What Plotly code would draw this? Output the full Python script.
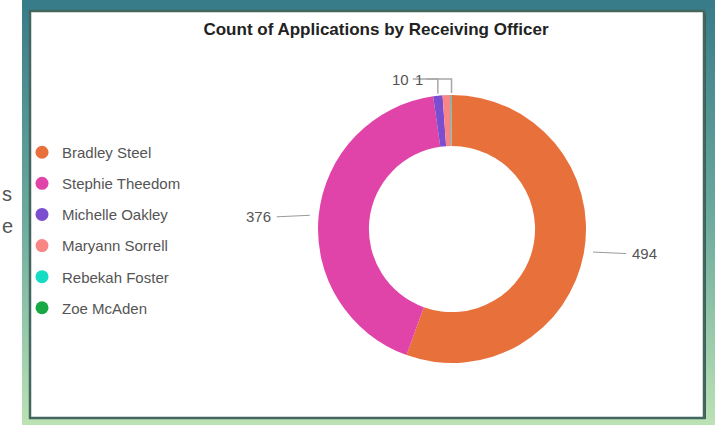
import math
import plotly.graph_objects as go

# ---- data ----
officers = ["Bradley Steel", "Stephie Theedom", "Michelle Oakley",
            "Maryann Sorrell", "Rebekah Foster", "Zoe McAden"]
applications = [494, 376, 10, 9, 1, 0]
colors = ["#E8703A", "#E044A8", "#7A4ECF", "#FA8585", "#14DDC3", "#18A845"]
shown_labels = [True, True, True, False, True, False]
title_text = "Count of Applications by Receiving Officer"

# ---- layout geometry (pixels) ----
W, H = 715, 425
cx, cy, R = 452, 229, 134
HOLE = 0.62


def px(x):
    return x / W


def py(y):
    return 1 - y / H


fig = go.Figure()

fig.add_trace(go.Pie(
    labels=officers, values=applications,
    marker=dict(colors=colors, line=dict(width=0)),
    hole=HOLE, sort=False, direction="clockwise", rotation=0,
    textinfo="none", showlegend=False,
    domain=dict(x=[px(cx - R), px(cx + R)], y=[py(cy + R), py(cy - R)]),
    hovertemplate="%{label}: %{value}<extra></extra>",
))

# legend entries with circle symbols
for i, (name, col) in enumerate(zip(officers, colors)):
    fig.add_trace(go.Scatter(
        x=[None], y=[None], mode="markers", name=name,
        marker=dict(color=col, size=13, symbol="circle"),
        legendgroup=f"g{i}", showlegend=True, hoverinfo="skip",
    ))

# ---- data labels with connectors, positioned from the slice angles ----
total = sum(applications)
shapes = []
annotations = []
cum = 0
for name, val, show in zip(officers, applications, shown_labels):
    mid = (cum + val / 2) / total * 2 * math.pi
    cum += val
    if not show or val <= 0:
        continue
    ex = cx + R * math.sin(mid)
    ey = cy - R * math.cos(mid)
    if abs(math.sin(mid)) > 0.3:
        side = 1 if math.sin(mid) > 0 else -1
        x0, x1 = ex + side * 9, ex + side * 42
        shapes.append(dict(type="line", xref="paper", yref="paper",
                           x0=px(x0), y0=py(ey), x1=px(x1), y1=py(ey + 1.5),
                           line=dict(color="#9a9a9a", width=1)))
        annotations.append(dict(x=px(ex + side * 46), y=py(ey + 1.5),
                                xref="paper", yref="paper", text=str(val),
                                showarrow=False,
                                xanchor="left" if side > 0 else "right",
                                yanchor="middle",
                                font=dict(size=15, color="#555555",
                                          family="Liberation Sans, Arial")))
    else:
        ly = cy - R - 16
        lx = ex - 27
        path = f"M {px(lx + 2)},{py(ly)} L {px(ex)},{py(ly)} L {px(ex)},{py(ey - 2)}"
        shapes.append(dict(type="path", xref="paper", yref="paper", path=path,
                           line=dict(color="#a8a8a8", width=1.5)))
        annotations.append(dict(x=px(lx), y=py(ly), xref="paper", yref="paper",
                                text=str(val), showarrow=False,
                                xanchor="right", yanchor="middle",
                                font=dict(size=15, color="#555555",
                                          family="Liberation Sans, Arial")))

# ---- page background / card ----
grad_svg = (
    "data:image/svg+xml;utf8,"
    "<svg xmlns='http://www.w3.org/2000/svg' width='100' height='100' preserveAspectRatio='none'>"
    "<defs><linearGradient id='g' x1='0' y1='0' x2='0' y2='1'>"
    "<stop offset='0' stop-color='%23387b89'/>"
    "<stop offset='0.5' stop-color='%236aa99d'/>"
    "<stop offset='1' stop-color='%23bce2b5'/>"
    "</linearGradient></defs>"
    "<rect width='100' height='100' fill='url(%23g)'/></svg>"
)
images = [dict(source=grad_svg, xref="paper", yref="paper",
               x=px(22), y=1, sizex=1 - px(22), sizey=1,
               xanchor="left", yanchor="top", sizing="stretch", layer="below")]

card_shapes = [
    dict(type="rect", xref="paper", yref="paper", layer="below",
         x0=px(31), y0=py(419), x1=px(706), y1=py(13),
         fillcolor="#3d5f58", line=dict(width=0)),
    dict(type="rect", xref="paper", yref="paper", layer="below",
         x0=px(30), y0=py(418), x1=px(704), y1=py(11),
         fillcolor="#ffffff", line=dict(color="#43665f", width=2.5)),
]

side_text = [
    dict(x=px(0), y=py(194), xref="paper", yref="paper", text="s",
         showarrow=False, xanchor="left", yanchor="middle",
         font=dict(size=20, color="#555555", family="Liberation Sans, Arial")),
    dict(x=px(0), y=py(226), xref="paper", yref="paper", text="e",
         showarrow=False, xanchor="left", yanchor="middle",
         font=dict(size=20, color="#555555", family="Liberation Sans, Arial")),
]

fig.update_layout(
    width=W, height=H,
    margin=dict(l=0, r=0, t=0, b=0),
    paper_bgcolor="#ffffff", plot_bgcolor="rgba(0,0,0,0)",
    xaxis=dict(visible=False), yaxis=dict(visible=False),
    title=dict(text=f"<b>{title_text}</b>", x=px(376), xanchor="center",
               y=py(29), yanchor="middle",
               font=dict(size=17, color="#222222", family="Liberation Sans, Arial")),
    legend=dict(x=px(22), xanchor="left", y=py(136), yanchor="top",
                traceorder="grouped", tracegroupgap=8.6,
                bgcolor="rgba(0,0,0,0)",
                font=dict(size=15, color="#555555", family="Liberation Sans, Arial"),
                itemclick=False, itemdoubleclick=False),
    shapes=card_shapes + shapes,
    annotations=annotations + side_text,
    images=images,
)

fig.write_html("out.html",
               config={"displayModeBar": False},
               post_script="document.body.style.margin='0';"
                           "document.body.style.overflow='hidden';")
